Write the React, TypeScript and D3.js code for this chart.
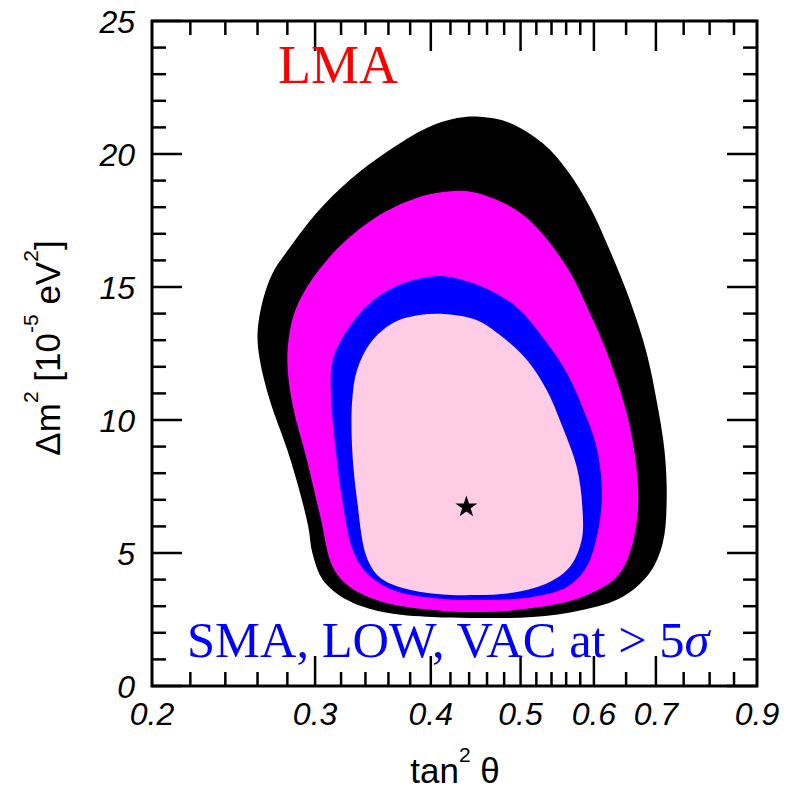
import React from 'react';
import * as d3 from 'd3';

// ---- axis ticks ----
const xTickLabels = [0.2, 0.3, 0.4, 0.5, 0.6, 0.7, 0.9];
const xMajorTicks = [0.3, 0.4, 0.5, 0.6, 0.7];
const xMinorTicks = [
  0.22, 0.24, 0.26, 0.28, 0.32, 0.34, 0.36, 0.38, 0.42, 0.44, 0.46, 0.48,
  0.52, 0.54, 0.56, 0.58, 0.65, 0.75, 0.8, 0.85,
];
const yMajorTicks = [0, 5, 10, 15, 20, 25];
const yMinorTicks = [1, 2, 3, 4, 6, 7, 8, 9, 11, 12, 13, 14, 16, 17, 18, 19, 21, 22, 23, 24];

// ---- contours (tan^2 theta, dm^2 [1e-5 eV^2]) ----
const contourBlack: [number, number][] = [
  [0.452, 21.40], [0.487, 21.17], [0.528, 20.41], [0.561, 19.40], [0.594, 18.01],
  [0.624, 16.39], [0.656, 14.51], [0.684, 12.52], [0.701, 10.75], [0.715, 8.87],
  [0.719, 6.99], [0.712, 5.38], [0.689, 4.25], [0.644, 3.35], [0.583, 2.86],
  [0.515, 2.59], [0.455, 2.56], [0.402, 2.59], [0.355, 2.78], [0.325, 3.23],
  [0.306, 3.98], [0.298, 5.00], [0.295, 5.98], [0.289, 7.26], [0.280, 8.87],
  [0.268, 10.75], [0.2615, 12.26], [0.260, 13.27], [0.2635, 14.51], [0.270, 15.53],
  [0.282, 16.50], [0.301, 17.78], [0.327, 19.02], [0.361, 20.15], [0.396, 20.98],
  [0.427, 21.35],
];
const contourMagenta: [number, number][] = [
  [0.437, 18.61], [0.463, 18.38], [0.495, 17.89], [0.520, 17.26], [0.561, 15.75],
  [0.594, 14.02], [0.624, 12.26], [0.651, 10.26], [0.667, 8.23], [0.669, 6.50],
  [0.656, 5.00], [0.635, 4.10], [0.583, 3.35], [0.515, 2.93], [0.455, 2.78],
  [0.402, 2.86], [0.355, 3.16], [0.327, 3.72], [0.3135, 4.47], [0.304, 6.35],
  [0.294, 8.50], [0.284, 10.49], [0.280, 12.26], [0.284, 13.87], [0.294, 15.00],
  [0.311, 16.13], [0.327, 16.88], [0.355, 17.78], [0.386, 18.35], [0.412, 18.57],
];
const contourBlue: [number, number][] = [
  [0.412, 15.41], [0.455, 15.00], [0.495, 14.25], [0.528, 13.12], [0.561, 11.77],
  [0.583, 10.49], [0.604, 8.98], [0.612, 7.26], [0.6055, 5.75], [0.589, 4.47],
  [0.561, 3.72], [0.515, 3.35], [0.455, 3.23], [0.402, 3.31], [0.364, 3.61],
  [0.341, 4.25], [0.3295, 5.11], [0.321, 6.99], [0.315, 9.25], [0.312, 11.02],
  [0.3135, 12.26], [0.325, 13.38], [0.344, 14.40], [0.370, 15.08], [0.392, 15.34],
];
const contourPink: [number, number][] = [
  [0.416, 13.98], [0.448, 13.76], [0.478, 13.12], [0.508, 12.26], [0.5335, 11.13],
  [0.555, 9.74], [0.575, 8.23], [0.583, 6.73], [0.582, 5.49], [0.565, 4.47],
  [0.5375, 3.91], [0.495, 3.53], [0.448, 3.42], [0.406, 3.46], [0.373, 3.68],
  [0.352, 4.10], [0.341, 4.85], [0.333, 6.99], [0.329, 8.87], [0.329, 10.75],
  [0.333, 11.88], [0.344, 12.89], [0.364, 13.65], [0.389, 13.95],
];
const bestFit: [number, number] = [0.437, 6.73];

const contours = [
  { data: contourBlack, color: '#000000' },
  { data: contourMagenta, color: '#ff00ff' },
  { data: contourBlue, color: '#0000ff' },
  { data: contourPink, color: '#ffcce6' },
];

const W = 792;
const H = 792;
const L = 152, R = 757, T = 21, B = 686;

export default function App() {
  const x = d3.scaleLog().domain([0.2, 0.9]).range([L, R]);
  const y = d3.scaleLinear().domain([0, 25]).range([B, T]);
  const line = d3
    .line<[number, number]>()
    .x((d) => x(d[0]))
    .y((d) => y(d[1]))
    .curve(d3.curveCatmullRomClosed.alpha(0.5));
  const star = d3.symbol().type(d3.symbolStar).size(150)();

  const tickFont = "'Liberation Sans', Arial, Helvetica, sans-serif";
  const serif = "'Liberation Serif', 'Times New Roman', serif";
  const majorLen = 30;
  const minorLen = 14;

  return (
    <svg
      width={W}
      height={H}
      viewBox={`0 0 ${W} ${H}`}
      style={{ position: 'absolute', left: 0, top: 0, background: '#fff' }}
    >
      <rect x={0} y={0} width={W} height={H} fill="#fff" />
      {contours.map((c, i) => (
        <path key={i} d={line(c.data) || ''} fill={c.color} stroke="none" />
      ))}
      <path d={star || ''} transform={`translate(${x(bestFit[0])},${y(bestFit[1])})`} fill="#000" />

      {/* ticks */}
      <g stroke="#000" strokeWidth={2.5}>
        {xMajorTicks.map((t) => (
          <g key={'xM' + t}>
            <line x1={x(t)} x2={x(t)} y1={B} y2={B - majorLen} />
            <line x1={x(t)} x2={x(t)} y1={T} y2={T + majorLen} />
          </g>
        ))}
        {xMinorTicks.map((t) => (
          <g key={'xm' + t}>
            <line x1={x(t)} x2={x(t)} y1={B} y2={B - minorLen} />
            <line x1={x(t)} x2={x(t)} y1={T} y2={T + minorLen} />
          </g>
        ))}
        {yMajorTicks.map((t) => (
          <g key={'yM' + t}>
            <line x1={L} x2={L + majorLen} y1={y(t)} y2={y(t)} />
            <line x1={R} x2={R - majorLen} y1={y(t)} y2={y(t)} />
          </g>
        ))}
        {yMinorTicks.map((t) => (
          <g key={'ym' + t}>
            <line x1={L} x2={L + minorLen} y1={y(t)} y2={y(t)} />
            <line x1={R} x2={R - minorLen} y1={y(t)} y2={y(t)} />
          </g>
        ))}
      </g>
      <rect x={L} y={T} width={R - L} height={B - T} fill="none" stroke="#000" strokeWidth={3} />

      {/* tick labels */}
      <g fontFamily={tickFont} fontStyle="italic" fontSize={32} fill="#000">
        {xTickLabels.map((t) => (
          <text key={'xl' + t} x={x(t)} y={725} textAnchor="middle">
            {String(t)}
          </text>
        ))}
        {yMajorTicks.map((t) => (
          <text key={'yl' + t} x={135} y={y(t) + 12} textAnchor="end">
            {String(t)}
          </text>
        ))}
      </g>

      {/* axis titles */}
      <text x={455} y={783} textAnchor="middle" fontFamily={tickFont} fontSize={35} fill="#000">
        tan
        <tspan dy={-21} fontSize={21}>2</tspan>
        <tspan dy={21}> θ</tspan>
      </text>
      <text
        transform="translate(60,348) rotate(-90)"
        textAnchor="middle"
        fontFamily={tickFont}
        fontSize={35}
        fill="#000"
      >
        Δm
        <tspan dy={-22} fontSize={21}>2</tspan>
        <tspan dy={22}> [10</tspan>
        <tspan dy={-22} fontSize={21}>-5</tspan>
        <tspan dy={22}> eV</tspan>
        <tspan dy={-22} fontSize={21}>2</tspan>
        <tspan dy={22}>]</tspan>
      </text>

      {/* annotations */}
      <text x={338} y={83} textAnchor="middle" fontFamily={serif} fontSize={54} fill="#ff0000">
        LMA
      </text>
      <text x={187} y={657} fontFamily={serif} fontSize={50.5} fill="#0000ff">
        SMA, LOW, VAC at &gt; 5<tspan fontStyle="italic">σ</tspan>
      </text>
    </svg>
  );
}
